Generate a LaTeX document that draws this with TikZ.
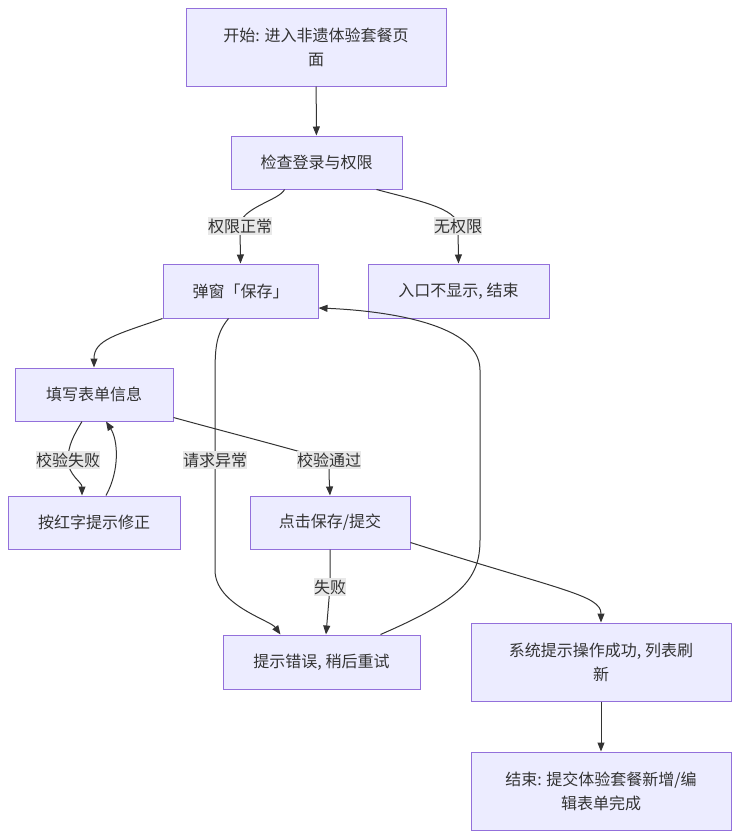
\documentclass[tikz,border=0pt]{standalone}
\usepackage{fontspec}
\setmainfont{Noto Sans CJK SC}
\usetikzlibrary{arrows.meta}
\definecolor{boxfill}{HTML}{ECECFF}
\definecolor{boxline}{HTML}{9370DB}
\definecolor{edgeline}{HTML}{333333}
\definecolor{lblfill}{HTML}{E8E8E8}

\begin{document}
\begin{tikzpicture}[x=1pt,y=-1pt,
    box/.style={draw=boxline,fill=boxfill,line width=1pt,align=center,inner sep=0pt,
        text=edgeline,font=\fontsize{16pt}{24pt}\selectfont},
    lbl/.style={fill=lblfill,inner xsep=0pt,inner ysep=1.5pt,text=edgeline,
        font=\fontsize{16pt}{20pt}\selectfont},
    edge/.style={-{Triangle[length=9pt,width=7pt]},draw=edgeline,line width=1pt}]
        \useasboundingbox (0,0) rectangle (739,838);

        \node[box,minimum width=260pt,minimum height=78pt] (start) at (316,47) {开始: 进入非遗体验套餐页\\面};
        \node[box,minimum width=171pt,minimum height=53pt] (chk) at (316.5,162.5) {检查登录与权限};
        \node[box,minimum width=155pt,minimum height=54pt] (pop) at (240.5,291) {弹窗「保存」};
        \node[box,minimum width=181pt,minimum height=54pt] (nop) at (458.5,291) {入口不显示, 结束};
        \node[box,minimum width=158pt,minimum height=53pt] (fil) at (94,394.5) {填写表单信息};
        \node[box,minimum width=172pt,minimum height=53pt] (fix) at (94,522.5) {按红字提示修正};
        \node[box,minimum width=160pt,minimum height=53pt] (clk) at (330,522.5) {点击保存/提交};
        \node[box,minimum width=197pt,minimum height=54pt] (err) at (321.5,662) {提示错误, 稍后重试};
        \node[box,minimum width=260pt,minimum height=78pt] (suc) at (601,662) {系统提示操作成功, 列表刷\\新};
        \node[box,minimum width=260pt,minimum height=78pt] (fin) at (601,791) {结束: 提交体验套餐新增/编\\辑表单完成};

        \draw[edge] (start) -- (chk);
        \draw[edge] ([xshift=-32pt]chk.south) .. controls (280,200) and (240,208) .. (240,226)
            node[lbl] (lok) {权限正常} -- (pop.north);
        \draw[edge] ([xshift=60pt]chk.south) .. controls (415,200) and (458,208) .. (458,226)
            node[lbl] (lno) {无权限} -- (nop.north);
        \draw[edge] (pop.south west) .. controls (115,335) and (94,340) .. (fil.north);
        \draw[edge] ([xshift=-12pt]pop.south) .. controls (215,335) and (215,350) .. (215,380)
            -- (215,460) node[lbl] (lexc) {请求异常}
            -- (215,570) .. controls (215,605) and (270,620) .. ([xshift=-41pt]err.north);
        \draw[edge] ([xshift=59pt]err.north) .. controls (460,600) and (480,580) .. (480,540)
            -- (480,370) .. controls (480,320) and (370,310) .. ([yshift=-17pt]pop.east);

        \draw[edge] ([xshift=-12pt]fil.south) .. controls (74,435) and (68,445) .. (68,460)
            node[lbl] (lfail) {校验失败} .. controls (68,475) and (82,482) .. ([xshift=-12pt]fix.north);
        \draw[edge] ([xshift=12pt]fix.north) .. controls (120,470) and (118,440) .. ([xshift=12pt]fil.south);
        \draw[edge] ([yshift=4pt]fil.south east) .. controls (215,429) and (285,447) .. (329,460)
            node[lbl] (lpass) {校验通过} .. controls (329,475) .. (clk.north);

        \draw[edge] (clk.south) -- (330,587) node[lbl] (lbad) {失败} -- ([xshift=4.5pt]err.north);
        \draw[edge] ([yshift=7pt]clk.south east) .. controls (560,590) and (601,595) .. (suc.north);
        \draw[edge] (suc) -- (fin);

    \end{tikzpicture}
\end{document}
